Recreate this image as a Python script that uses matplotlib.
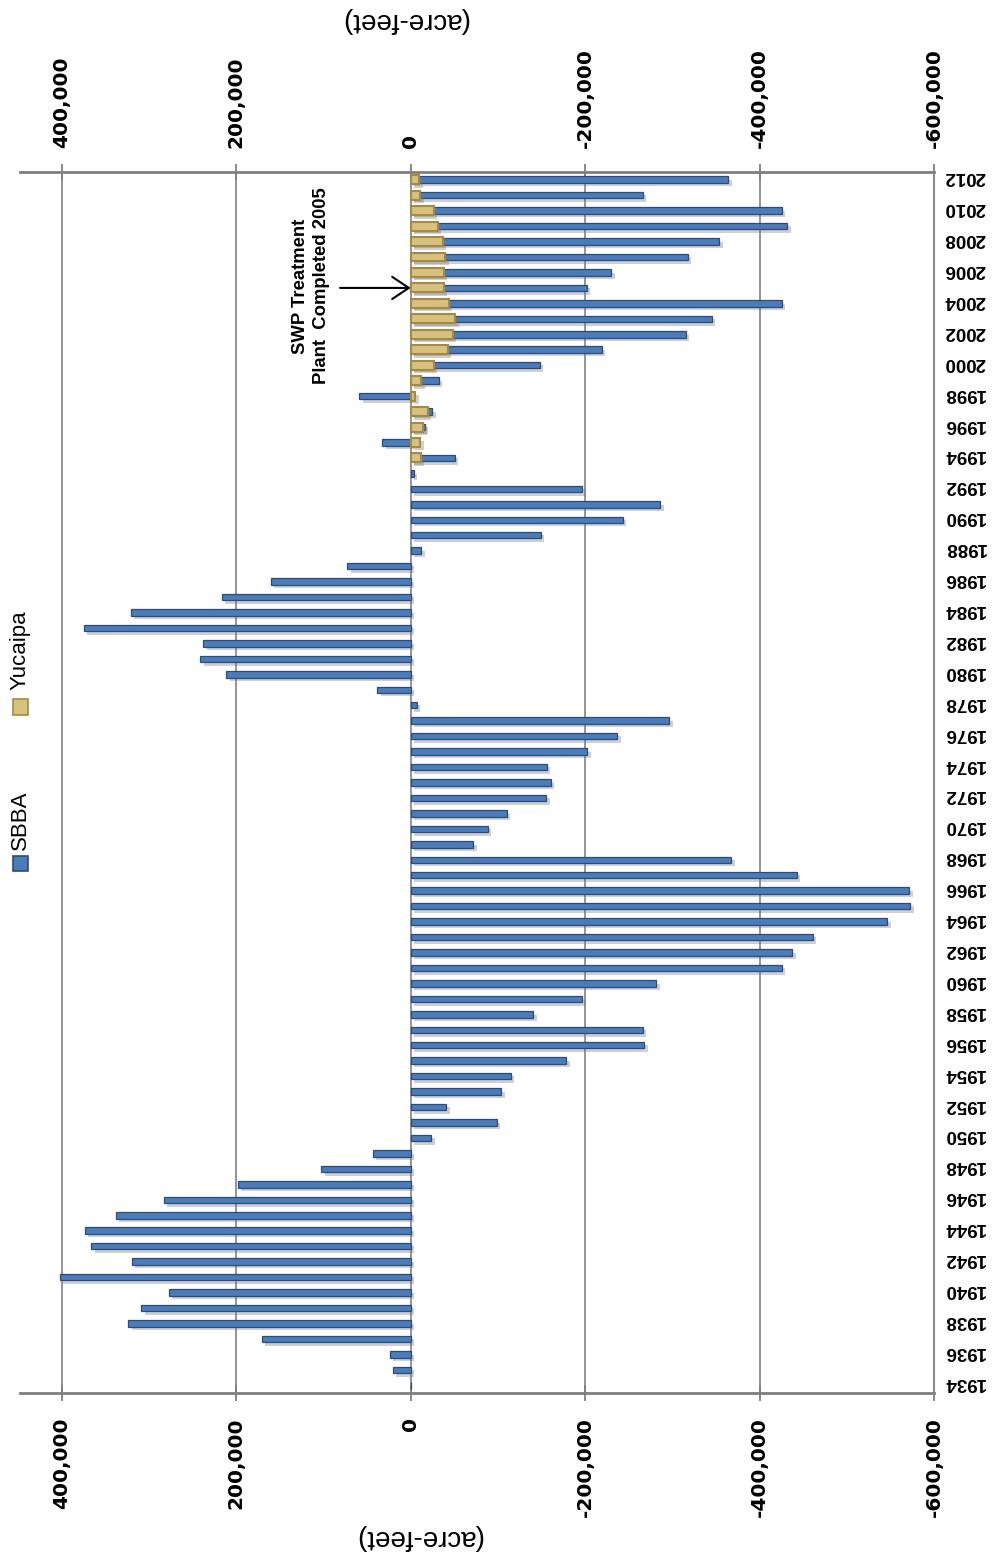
import matplotlib
matplotlib.use("Agg")
import matplotlib.pyplot as plt
import matplotlib.patheffects as pe
import matplotlib.transforms as mtrans
from matplotlib.patches import Rectangle
from matplotlib.ticker import FuncFormatter

# ---------------- data ----------------
years = list(range(1934, 2013))
sbba = [
    0, 20400, 23800, 170800, 323800, 309200, 277300, 402700, 320000, 366500,      # 1934-1943
    373800, 338100, 283100, 198100, 102300, 43800, -23800, -98900, -40600, -103800,  # 1944-1953
    -114500, -178500, -267900, -265800, -140700, -196500, -281800, -425400, -437300, -460700,  # 1954-1963
    -546500, -572700, -571500, -442700, -367600, -71800, -88200, -109900, -155500, -160800,  # 1964-1973
    -155900, -202700, -236700, -296200, -7000, 38500, 211500, 241200, 238100, 375000,  # 1974-1983
    321200, 216500, 160400, 72700, -12300, -148900, -242900, -286000, -196500, -3300,  # 1984-1993
    -50500, 32400, -16000, -24600, 59000, -32000, -147700, -219100, -315500, -345400,  # 1994-2003
    -425400, -201800, -229700, -317900, -353600, -431600, -425400, -266300, -363900,   # 2004-2012
]
yucaipa_years = list(range(1994, 2013))
yucaipa = [-11500, -11000, -14400, -19300, -5000, -12300, -26300, -42700, -48400, -50900,
           -43900, -38100, -37700, -39400, -36900, -30800, -26300, -11000, -9800]
value_ticks = [400000, 200000, 0, -200000, -400000, -600000]
year_ticks = list(range(1934, 2013, 2))
series_names = ["SBBA", "Yucaipa"]
axis_title = "(acre-feet)"
note_text = "SWP Treatment\nPlant  Completed 2005"
note_year = 2005

# ---------------- figure ----------------
W, H = 995, 1562
fig = plt.figure(figsize=(W / 100, H / 100), dpi=100)
fig.patch.set_facecolor("white")

def fx(px):
    return px / W

def fy(py):
    return 1 - py / H

ax = fig.add_axes([fx(20), fy(1393), (934 - 20) / W, (1393 - 172) / H])

blue_face, blue_edge = "#4a7cba", "#2b4b78"
gold_face, gold_edge = "#d8c07f", "#a58a44"

shadow = [pe.SimplePatchShadow(offset=(2.5, -2.5), shadow_rgbFace="#777777", alpha=0.35), pe.Normal()]
bars = ax.barh(years, sbba, height=0.42, color=blue_face, edgecolor=blue_edge,
               linewidth=0.9, zorder=3)
for b in bars:
    b.set_path_effects(shadow)
gbars = ax.barh(yucaipa_years, yucaipa, height=0.58, color=gold_face, edgecolor=gold_edge,
                linewidth=1.5, zorder=4)
for b in gbars:
    b.set_path_effects(shadow)

ax.set_xlim(448000, -600000)
ax.set_ylim(1933.5, 2012.5)

# value axis (top and bottom)
ax.set_xticks(value_ticks)
ax.xaxis.set_major_formatter(FuncFormatter(lambda v, p: f"{int(v):,}"))
ax.tick_params(axis="x", top=True, bottom=True, labeltop=True, labelbottom=True,
               direction="inout", length=11, width=1.3, color="#7f7f7f",
               labelsize=14.5, labelrotation=90, pad=12)
for t in ax.xaxis.get_major_ticks():
    for lbl in (t.label1, t.label2):
        lbl.set_fontweight("bold")
        lbl.set_family("DejaVu Sans")

# category axis (right side, upside-down labels)
ax.yaxis.tick_right()
ax.set_yticks(year_ticks)
ax.set_yticklabels([str(y) for y in year_ticks], rotation=180, fontsize=13.5,
                   fontweight="bold", family="Liberation Sans", va="center")
ax.tick_params(axis="y", length=0, pad=7)
nudge = mtrans.ScaledTranslation(0, 3 / 100, fig.dpi_scale_trans)
for t in ax.yaxis.get_major_ticks():
    t.label2.set_transform(t.label2.get_transform() + nudge)

ax.grid(axis="x", color="#8c8c8c", linewidth=1.3, zorder=0)
ax.set_axisbelow(True)
for side in ("top", "bottom"):
    ax.spines[side].set_color("#7f7f7f")
    ax.spines[side].set_linewidth(2)
ax.spines["right"].set_color("#8c8c8c")
ax.spines["right"].set_linewidth(1.5)
ax.spines["left"].set_visible(False)

# axis titles (upside down)
fig.text(fx(404), fy(20), axis_title, rotation=180, ha="center", va="center",
         fontsize=20, family="Liberation Sans")
fig.text(fx(418), fy(1537), axis_title, rotation=180, ha="center", va="center",
         fontsize=20, family="Liberation Sans")

# legend (rotated)
leg = [(series_names[0], blue_face, blue_edge, 863, 820),
       (series_names[1], gold_face, gold_edge, 707, 650)]
for name, fc, ec, sq_y, txt_y in leg:
    s = 15
    fig.add_artist(Rectangle((fx(20 - s / 2), fy(sq_y + s / 2)), s / W, s / H,
                             transform=fig.transFigure, facecolor=fc, edgecolor=ec,
                             linewidth=1.2))
    fig.text(fx(20), fy(txt_y), name, rotation=90, ha="center", va="center",
             fontsize=16, family="Liberation Sans")

# annotation
ax.annotate("", xy=(0, note_year), xytext=(81000, note_year),
            arrowprops=dict(arrowstyle="->,head_length=0.6,head_width=0.4",
                            color="black", lw=1.5, shrinkA=0, shrinkB=0,
                            mutation_scale=20), zorder=6)
fig.text(fx(311), fy(286), note_text, rotation=90, ha="center", va="center",
         multialignment="center", fontsize=13.3, fontweight="bold",
         family="Liberation Sans", linespacing=1.35)

fig.savefig("out.png", dpi=100, facecolor="white")
